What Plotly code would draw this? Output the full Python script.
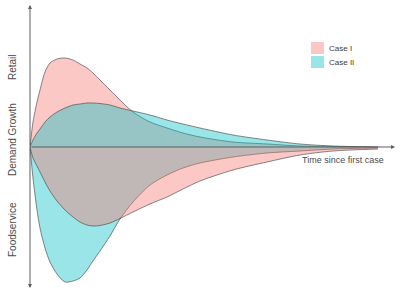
import plotly.graph_objects as go

# time since first case (arbitrary units)
time = [0, 0.3, 0.7, 1, 1.5, 2, 2.7, 3.5, 4.3, 5, 5.7, 6.3, 7, 8, 9, 10.3,
        12, 13.7, 15.3, 17, 20.3, 23.7, 27, 30.3, 34.8]

# demand growth (arbitrary units)
retail_case1 = [0, 25, 45, 57, 75, 84, 88, 89, 87, 83, 79, 74, 67, 57, 47, 35,
                25, 19, 14, 10, 5, 3, 1, 0.5, 0]
retail_case2 = [0, 7, 14, 18, 25, 30, 35, 39, 42, 43, 44, 44, 43.5, 42, 39, 36,
                32, 27, 23, 19, 12, 7, 3, 1, 0]
food_case1 = [0, -11, -19, -25, -35, -44, -54, -63, -70, -75, -78, -79, -78.5,
              -76, -71.5, -65, -57, -50, -42, -34, -23, -15, -8, -4, -2]
food_case2 = [0, -31, -63, -81, -101, -115, -127, -135, -134, -131, -123, -114,
              -104, -89, -72, -55, -38, -28, -21, -16, -10, -6, -4, -2, -1]

series_names = ["Case I", "Case II"]

PINK = "rgba(248,118,109,0.4)"
CYAN = "rgba(0,191,196,0.4)"
EDGE = "rgba(70,70,70,0.8)"

fig = go.Figure()

def area(y, fill):
    fig.add_trace(go.Scatter(
        x=time, y=y, mode="lines", fill="tozeroy", fillcolor=fill,
        line=dict(color=EDGE, width=0.8, shape="spline", smoothing=0.8),
        showlegend=False, hoverinfo="skip"))

area(retail_case1, PINK)
area(retail_case2, CYAN)
area(food_case2, CYAN)
area(food_case1, PINK)

AX = "rgb(95,95,95)"
# axes with arrows
for (hx, hy) in [(0, 142), (0, -141), (36.5, 0)]:
    fig.add_annotation(x=hx, y=hy, ax=0, ay=0, xref="x", yref="y",
                       axref="x", ayref="y", text="", showarrow=True,
                       arrowhead=2, arrowsize=0.8, arrowwidth=1,
                       arrowcolor=AX)

TXT = dict(family="Liberation Sans, Arial, sans-serif", size=10,
           color="rgb(75,75,75)")
fig.add_annotation(x=31.3, y=-13, xref="x", yref="y", text="Time since first case",
                   showarrow=False, font=dict(TXT, size=9),
                   xanchor="center", yanchor="middle")
for label, yv in [("Retail", 80), ("Demand Growth", 7), ("Foodservice", -83)]:
    fig.add_annotation(x=12 / 400, xref="paper", y=yv, yref="y", text=label,
                       textangle=-90, showarrow=False, font=TXT,
                       xanchor="center", yanchor="middle")

# legend (boxes + labels)
LEG = dict(family="Liberation Sans, Arial, sans-serif", size=8,
           color="rgb(60,60,60)")
for i, (name, col) in enumerate(zip(series_names, [PINK, CYAN])):
    top = 42 + i * 14
    fig.add_shape(type="rect", xref="paper", yref="paper",
                  x0=311 / 400, x1=324 / 400,
                  y0=1 - (top + 12) / 295, y1=1 - top / 295,
                  fillcolor=col, line=dict(width=0))
    fig.add_annotation(x=327 / 400, y=1 - (top + 6) / 295, xref="paper",
                       yref="paper", text=name, showarrow=False, font=LEG,
                       xanchor="left", yanchor="middle")

fig.update_layout(
    width=400, height=295,
    margin=dict(l=0, r=0, t=0, b=0),
    paper_bgcolor="white", plot_bgcolor="white",
    showlegend=False,
    xaxis=dict(range=[-3, 37], visible=False, fixedrange=True),
    yaxis=dict(range=[-148, 147], visible=False, fixedrange=True),
)

fig.write_html("out.html", config={"displayModeBar": False},
               post_script="document.body.style.margin='0';")
